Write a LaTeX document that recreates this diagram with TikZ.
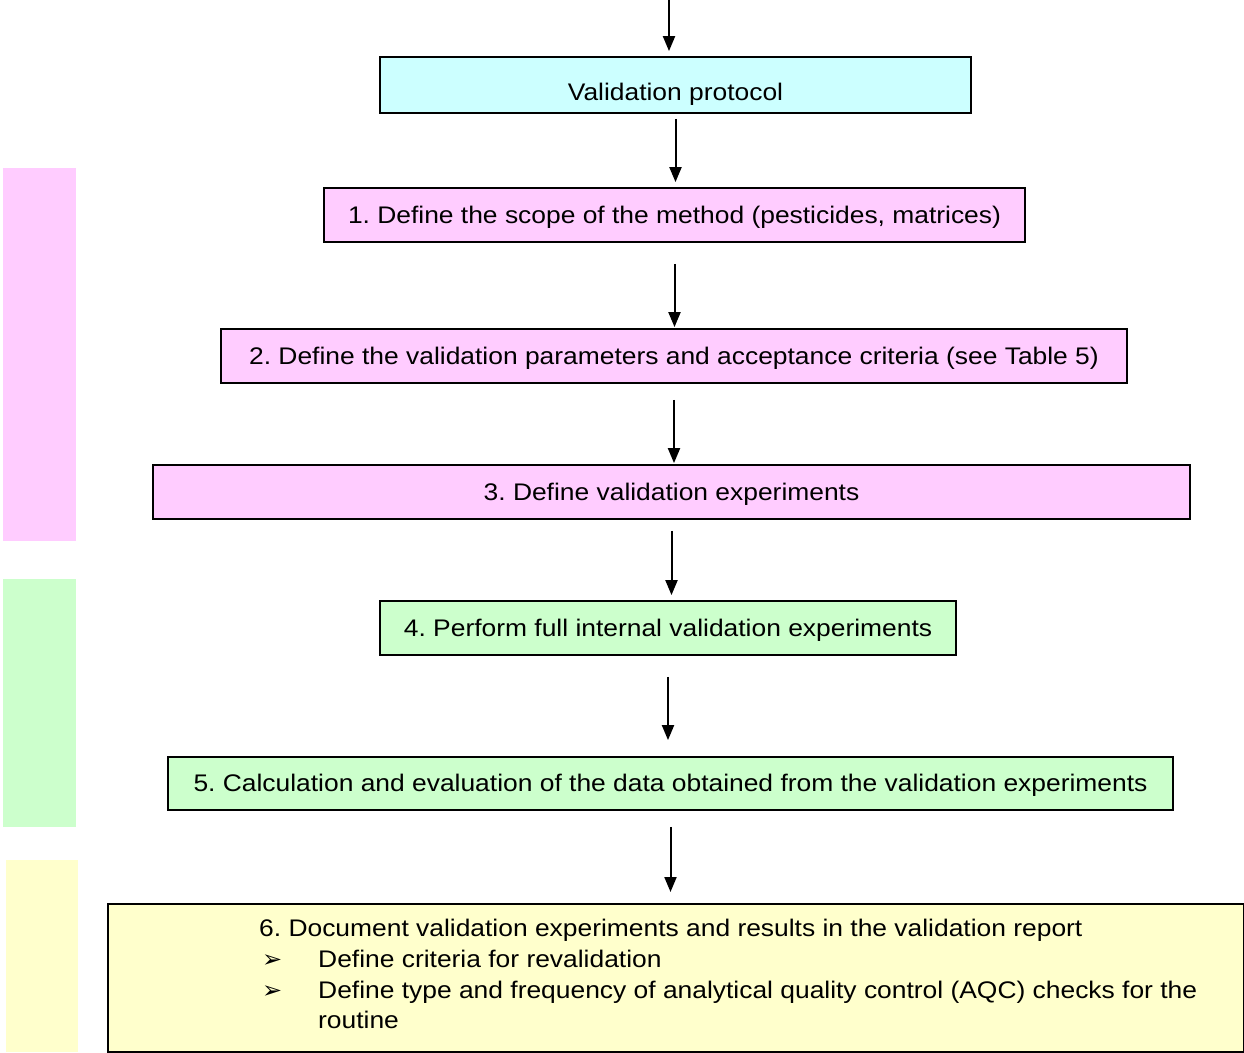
\documentclass[tikz,border=0pt]{standalone}
\usepackage{fontspec}
\setmainfont{Liberation Sans}[FakeStretch=1.1]
\newfontfamily\dingfont{DejaVu Sans}
\usepackage{tikz}
\usepackage{xcolor}
\usetikzlibrary{positioning,arrows.meta,calc}
\definecolor{protocyan}{RGB}{204,255,255}
\definecolor{planpink}{RGB}{255,204,255}
\definecolor{rungreen}{RGB}{204,255,204}
\definecolor{reportyellow}{RGB}{255,255,204}
\frenchspacing

\begin{document}
\begin{tikzpicture}[
    x=1pt, y=-1pt,
    stepbox/.style={rectangle, draw=black, line width=1.8pt, minimum height=54pt, text height=18pt, text depth=2pt, inner sep=0pt, font=\fontsize{24}{30.7}\selectfont},
    flow/.style={-{Triangle[length=15pt, width=12pt]}, line width=2pt}
]
\useasboundingbox (0,0) rectangle (1244,1052);

% Side bars
\fill[planpink] (3,168) rectangle (76,541);
\fill[rungreen] (3,579) rectangle (76,827);
\fill[reportyellow] (6,860) rectangle (78,1052);

% Steps
\node[stepbox, fill=protocyan, minimum width=591pt, minimum height=56pt] (vp) at (675.5,85) {\raisebox{-7pt}{Validation protocol}};
\node[stepbox, fill=planpink, minimum width=701pt] (b1) at (674.5,215) {1. Define the scope of the method (pesticides, matrices)};
\node[stepbox, fill=planpink, minimum width=906pt] (b2) at (674,356) {2. Define the validation parameters and acceptance criteria (see Table 5)};
\node[stepbox, fill=planpink, minimum width=1037pt] (b3) at (671.5,492) {3. Define validation experiments};
\node[stepbox, fill=rungreen, minimum width=576pt] (b4) at (668,628) {4. Perform full internal validation experiments};
\node[stepbox, fill=rungreen, minimum width=1005pt, minimum height=53pt] (b5) at (670.5,783.5) {5. Calculation and evaluation of the data obtained from the validation experiments};
\node[stepbox, fill=reportyellow, minimum width=1136pt, minimum height=148pt, anchor=north west] (b6) at (107,903) {};
\node[anchor=north west, align=left, inner sep=0pt, font=\fontsize{24}{30.7}\selectfont] (b6text) at (259,919) {%
6. Document validation experiments and results in the validation report\\
\hspace*{3pt}\makebox[56pt][l]{\dingfont\fontsize{24}{24}\selectfont ➢}Define criteria for revalidation\\
\hspace*{3pt}\makebox[56pt][l]{\dingfont\fontsize{24}{24}\selectfont ➢}Define type and frequency of analytical quality control (AQC) checks for the\\
\hspace*{59pt}routine};

% Arrows
\coordinate (entry) at (669,0);
\draw[flow, shorten >=5pt] (entry) -- (entry |- vp.north);
\draw[flow, shorten <=5pt, shorten >=5pt] (vp.south) -- (vp.south |- b1.north);
\draw[flow, shorten <=21pt, shorten >=1pt] (b1.south) -- (b1.south |- b2.north);
\draw[flow, shorten <=16pt, shorten >=1pt] (b2.south) -- (b2.south |- b3.north);
\draw[flow, shorten <=11pt, shorten >=5pt] (b3.south) -- (b3.south |- b4.north);
\draw[flow, shorten <=21pt, shorten >=16pt] (b4.south) -- (b4.south |- b5.north);
\draw[flow, shorten <=16pt, shorten >=11pt] (b5.south) -- (b5.south |- b6.north);

\end{tikzpicture}
\end{document}
